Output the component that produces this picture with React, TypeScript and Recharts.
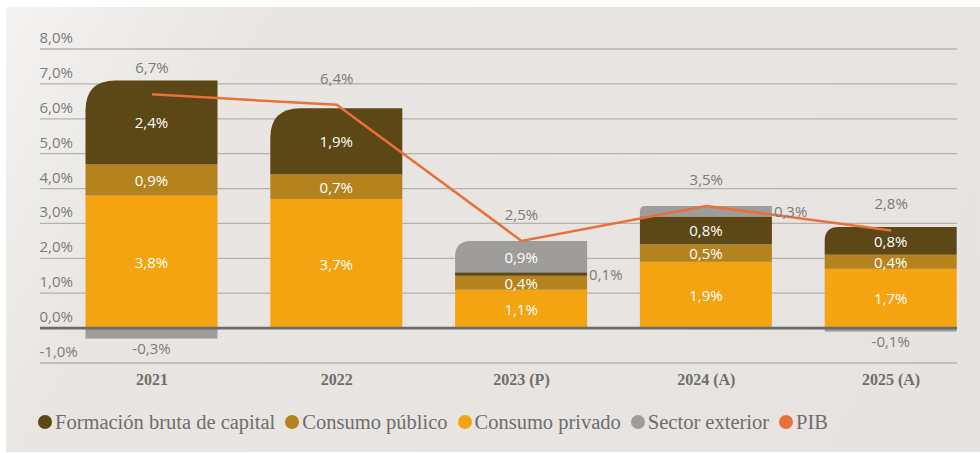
import React from 'react';
import { ComposedChart, Bar, Line, XAxis, YAxis, CartesianGrid, ReferenceLine, LabelList } from 'recharts';

const years = ['2021', '2022', '2023 (P)', '2024 (A)', '2025 (A)'];
const consumoPrivado = [3.8, 3.7, 1.1, 1.9, 1.7];
const consumoPublico = [0.9, 0.7, 0.4, 0.5, 0.4];
const formacionBruta = [2.4, 1.9, 0.1, 0.8, 0.8];
const sectorExterior: (number | null)[] = [-0.3, null, 0.9, 0.3, -0.1];
const pib = [6.7, 6.4, 2.5, 3.5, 2.8];
const yTicks = [-1, 0, 1, 2, 3, 4, 5, 6, 7, 8];

const COLORS = {
  fbk: '#5c4716',
  publico: '#b4831e',
  privado: '#f5a411',
  exterior: '#9e9d9b',
  pib: '#e8713a',
};
const GREY_TEXT = '#7b7b7b';
const SANS = '"Open Sans", "Noto Sans", sans-serif';
const SERIF = '"Liberation Serif", "DejaVu Serif", serif';

const STACK_KEYS = ['privado', 'publico', 'fbk', 'exterior'];

const data = years.map((year, i) => ({
  year,
  privado: consumoPrivado[i],
  publico: consumoPublico[i],
  fbk: formacionBruta[i],
  exterior: sectorExterior[i],
  pib: pib[i],
}));

const fmt = (v: number) => v.toFixed(1).replace('.', ',') + '%';

const topKeyOf = (row: any) => {
  let top = '';
  STACK_KEYS.forEach((k) => {
    if (row[k] != null && row[k] > 0) top = k;
  });
  return top;
};

const makeShape = (key: string) => (props: any) => {
  const { x, y, width, height, fill, payload } = props;
  if (height == null || width == null) return null;
  const y0 = Math.min(y, y + height);
  const h = Math.abs(height);
  if (h === 0) return null;
  const isTop = payload && topKeyOf(payload) === key && payload[key] > 0;
  if (!isTop) {
    return <rect x={x} y={y0} width={width} height={h} fill={fill} />;
  }
  const r = Math.min(30, h / 2);
  const d = `M${x},${y0 + h} L${x},${y0 + r} Q${x},${y0} ${x + r},${y0} L${x + width},${y0} L${x + width},${y0 + h} Z`;
  return <path d={d} fill={fill} />;
};

const makeLabel = (key: string) => (props: any) => {
  const { x, y, width, height, value } = props;
  if (value == null || value === 0) return null;
  const y0 = Math.min(y, y + height);
  const h = Math.abs(height);
  const cx = x + width / 2;
  if (value < 0) {
    return (
      <text x={cx} y={y0 + h + 9} textAnchor="middle" dominantBaseline="central" fill={GREY_TEXT} fontSize={15} fontFamily={SANS}>
        {fmt(value)}
      </text>
    );
  }
  const threshold = key === 'fbk' || key === 'exterior' ? 0.5 : 0;
  if (value < threshold) {
    return (
      <text x={x + width + 2} y={y0 + h / 2} textAnchor="start" dominantBaseline="central" fill={GREY_TEXT} fontSize={15} fontFamily={SANS}>
        {fmt(value)}
      </text>
    );
  }
  return (
    <text x={cx} y={y0 + h / 2} textAnchor="middle" dominantBaseline="central" fill="#ffffff" fontSize={15} fontFamily={SANS}>
      {fmt(value)}
    </text>
  );
};

const pibLabel = (props: any) => {
  const { x, y, value } = props;
  if (value == null) return null;
  return (
    <text x={x} y={y - 27} textAnchor="middle" dominantBaseline="central" fill={GREY_TEXT} fontSize={15} fontFamily={SANS}>
      {fmt(value)}
    </text>
  );
};

const YTick = (props: any) => {
  const { y, payload } = props;
  return (
    <text x={39.5} y={y - 6} textAnchor="start" fill={GREY_TEXT} fontSize={15} fontFamily={SANS}>
      {fmt(payload.value)}
    </text>
  );
};

const XTick = (props: any) => {
  const { x, y, payload } = props;
  return (
    <text x={x} y={y + 22} textAnchor="middle" fill="#6e6e6e" fontSize={16} fontWeight="bold" fontFamily={SERIF}>
      {payload.value}
    </text>
  );
};

const legendItems = [
  { label: 'Formación bruta de capital', color: COLORS.fbk },
  { label: 'Consumo público', color: COLORS.publico },
  { label: 'Consumo privado', color: COLORS.privado },
  { label: 'Sector exterior', color: COLORS.exterior },
  { label: 'PIB', color: COLORS.pib },
];

export default function App() {
  return (
    <div style={{ position: 'absolute', left: 0, top: 0, width: 980, height: 453, background: '#ffffff' }}>
      <div
        style={{
          position: 'absolute',
          left: 6,
          top: 7,
          width: 974,
          height: 445,
          background: 'linear-gradient(120deg, #f4f3f1 0%, #e8e5e2 22%, #e6e3e0 100%)',
        }}
      />
      <div style={{ position: 'absolute', left: 0, top: 0 }}>
        <ComposedChart
          width={980}
          height={453}
          data={data}
          stackOffset="sign"
          margin={{ top: 49, right: 23, bottom: 60, left: 0 }}
        >
          <CartesianGrid vertical={false} stroke="#b4b2af" strokeWidth={1.3} />
          <XAxis
            dataKey="year"
            axisLine={false}
            tickLine={false}
            tickSize={0}
            tickMargin={0}
            height={30}
            padding={{ left: 19.5, right: -26.5 }}
            tick={<XTick />}
            interval={0}
          />
          <YAxis
            domain={[-1, 8]}
            ticks={yTicks}
            width={40}
            axisLine={false}
            tickLine={false}
            tickSize={0}
            tickMargin={0}
            tick={<YTick />}
            interval={0}
          />
          {STACK_KEYS.map((k) => (
            <Bar
              key={k}
              dataKey={k}
              stackId="a"
              fill={(COLORS as any)[k]}
              barSize={132}
              isAnimationActive={false}
              shape={makeShape(k)}
            >
              <LabelList dataKey={k} content={makeLabel(k)} />
            </Bar>
          ))}
          <ReferenceLine y={0} stroke="#6b6b6b" strokeWidth={2.7} />
          <Line
            dataKey="pib"
            stroke={COLORS.pib}
            strokeWidth={2.5}
            dot={false}
            activeDot={false}
            isAnimationActive={false}
          >
            <LabelList dataKey="pib" content={pibLabel} />
          </Line>
        </ComposedChart>
      </div>
      <div
        style={{
          position: 'absolute',
          left: 38,
          top: 408,
          height: 28,
          display: 'flex',
          alignItems: 'center',
          fontFamily: SERIF,
          fontSize: 20.5,
          color: '#6e6e6e',
          whiteSpace: 'nowrap',
        }}
      >
        {legendItems.map((it) => (
          <div key={it.label} style={{ display: 'flex', alignItems: 'center', marginRight: 10 }}>
            <span
              style={{
                display: 'inline-block',
                width: 14,
                height: 14,
                borderRadius: 7,
                background: it.color,
                marginRight: 3,
              }}
            />
            <span>{it.label}</span>
          </div>
        ))}
      </div>
    </div>
  );
}
